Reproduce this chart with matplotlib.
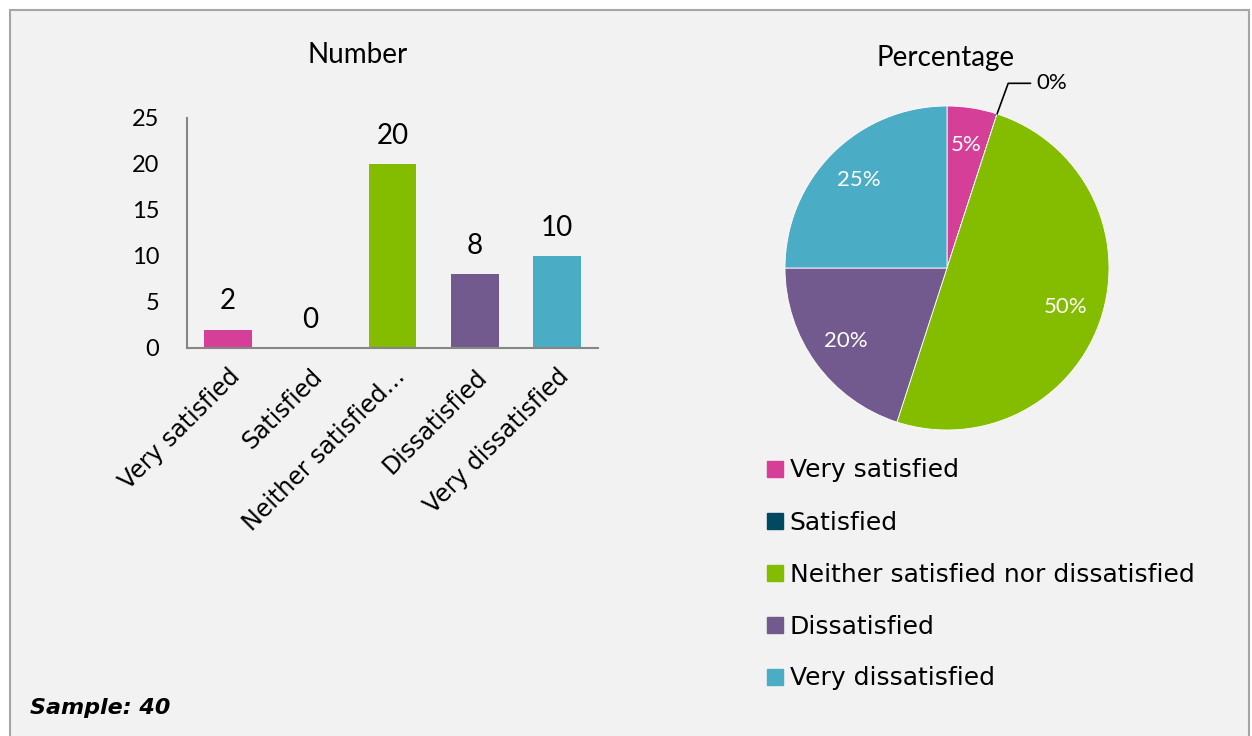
import matplotlib
matplotlib.use('Agg')
import matplotlib.pyplot as plt
import numpy as np
from matplotlib.patches import Rectangle
from matplotlib.lines import Line2D

plt.rcParams.update({'font.family': 'Lato'})

categories = ['Very satisfied', 'Satisfied', 'Neither satisfied nor dissatisfied',
              'Dissatisfied', 'Very dissatisfied']
tick_labels = ['Very satisfied', 'Satisfied', 'Neither satisfied\u2026',
               'Dissatisfied', 'Very dissatisfied']
counts = [2, 0, 20, 8, 10]
colors = ['#d63f97', '#004960', '#84bd00', '#725a8e', '#4bacc6']
sample_size = 40

fig = plt.figure(figsize=(12.52, 7.36), dpi=100, facecolor='white')
fig.patches.append(Rectangle((10/1252, -0.05), 1239/1252, 1.05 - 10/736,
                             transform=fig.transFigure, facecolor='#f2f2f2',
                             edgecolor='#a6a6a6', linewidth=1.5, zorder=-10))

# bar chart
ax = fig.add_axes([187/1252, 1-348/736, 411/1252, 230/736])
ax.set_facecolor('none')
x = np.arange(len(counts))
ax.bar(x, counts, width=0.58, color=colors)
for xi, v in zip(x, counts):
    ax.annotate(str(v), (xi, v), xytext=(0, 11), textcoords='offset points',
                ha='center', va='bottom', fontsize=20)
ax.set_xlim(-0.5, 4.5)
ax.set_ylim(0, 25)
ax.set_yticks([0, 5, 10, 15, 20, 25])
ax.tick_params(axis='y', length=0, pad=20, labelsize=17)
ax.set_xticks(x)
ax.set_xticklabels(tick_labels, rotation=45, ha='right', rotation_mode='anchor',
                   fontsize=17, family='DejaVu Sans')
ax.tick_params(axis='x', length=0, pad=12)
for s in ['top', 'right']:
    ax.spines[s].set_visible(False)
for s in ['left', 'bottom']:
    ax.spines[s].set_color('#868686')
    ax.spines[s].set_linewidth(1.5)
fig.text(358/1252, 1-55/736, 'Number', ha='center', va='center', fontsize=20)

# pie chart
pax = fig.add_axes([(947-202.5)/1252, 1-(268+202.5)/736, 405/1252, 405/736])
pax.set_facecolor('none')
wedges, _ = pax.pie(counts, colors=colors, startangle=90, counterclock=False,
                    wedgeprops=dict(edgecolor='white', linewidth=0.6))
pax.set_xlim(-1.25, 1.25)
pax.set_ylim(-1.25, 1.25)
pax.set_aspect('equal')
total = sum(counts)
for w, v in zip(wedges, counts):
    pct = '%d%%' % round(100 * v / total)
    if v > 0:
        mid = np.deg2rad((w.theta1 + w.theta2) / 2)
        pax.text(0.77*np.cos(mid), 0.77*np.sin(mid), pct, ha='center', va='center',
                 color='white', fontsize=16)
    else:
        a = np.deg2rad(w.theta1)
        pax.annotate(pct, (np.cos(a), np.sin(a)), xytext=(0.55, 1.14),
                     ha='left', va='center', fontsize=16, annotation_clip=False,
                     arrowprops=dict(arrowstyle='-', color='black', lw=1.2,
                                     shrinkA=2, shrinkB=0,
                                     connectionstyle='angle,angleA=0,angleB=70,rad=0'))
fig.text(946/1252, 1-58/736, 'Percentage', ha='center', va='center', fontsize=20)

handles = [Line2D([], [], marker='s', linestyle='none', markersize=11,
                  markerfacecolor=c, markeredgecolor=c) for c in colors]
fig.legend(handles, categories, loc='upper left', bbox_to_anchor=(742/1252, 1-436/736),
           frameon=False, handlelength=0.8, handletextpad=0.2, labelspacing=1.12,
           prop={'family': 'DejaVu Sans', 'size': 18})

fig.text(30/1252, 1-708/736, 'Sample: %d' % sample_size, ha='left', va='center',
         fontsize=16, fontweight='bold', fontstyle='italic', family='DejaVu Sans')

fig.savefig('out.png', dpi=100, facecolor=fig.get_facecolor())
